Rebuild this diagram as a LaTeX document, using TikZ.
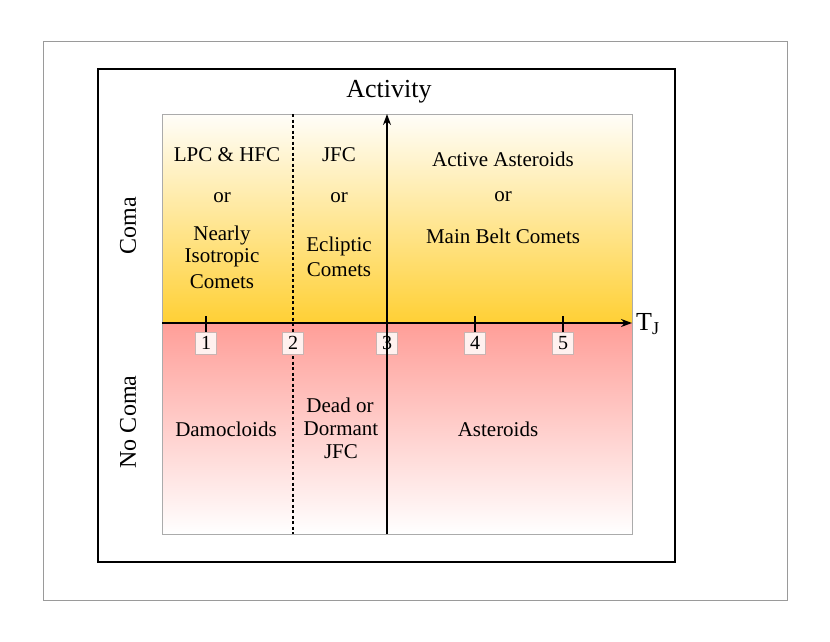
\documentclass[tikz,border=0pt]{standalone}
\usepackage{fontspec}
\setmainfont{Liberation Serif}
\usetikzlibrary{arrows.meta}
\definecolor{gold}{HTML}{FFD035}
\definecolor{salmon}{HTML}{FF9E98}
\definecolor{frameg}{HTML}{9A9A9A}
\definecolor{plotg}{HTML}{ABABAB}
\definecolor{tickfill}{HTML}{FFF1EF}
\definecolor{tickdraw}{HTML}{C9B4B2}
\tikzset{
  lbl/.style={font=\fontsize{21}{24}\selectfont, inner sep=0pt, anchor=center},
  side/.style={font=\fontsize{24}{28}\selectfont, inner sep=0pt, rotate=90},
  ticklbl/.style={font=\fontsize{20}{22}\selectfont, draw=tickdraw, fill=tickfill, minimum width=21pt, minimum height=22pt, inner sep=0pt, line width=0.8pt},
  axisline/.style={line width=1.8pt, -{Stealth[length=11pt,width=8pt]}},
  tickline/.style={line width=1.2pt},
}
\begin{document}
\begin{tikzpicture}[x=1pt,y=-1pt]
\useasboundingbox (0,0) rectangle (830,642);
\fill[white] (0,0) rectangle (830,642);
% frames
\draw[frameg, line width=1pt] (43,42) rectangle (787,600);
\draw[black, line width=2pt] (98,69) rectangle (675,562);
% shaded regions
\shade[top color=white!97!gold, middle color=gold!55!white, bottom color=gold] (162,114) rectangle (632,323);
\shade[top color=salmon, middle color=salmon!78!white, bottom color=white] (162,323) rectangle (632,534);
\draw[plotg, line width=1pt] (162,114) rectangle (632,534);
% coordinates
\coordinate (xs) at (162,323);
\coordinate (xe) at (632,323);
\coordinate (ys) at (387,534);
\coordinate (ye) at (387,114);
\coordinate (ds) at (293,114);
\coordinate (de) at (293,534);
% dashed divider
\draw[line width=1.2pt, dash pattern=on 3pt off 2.5pt] (ds) -- (de);
% tick labels
\node[ticklbl] (t1) at (206,343) {1};
\node[ticklbl] (t2) at (293,343) {2};
\node[ticklbl] (t3) at (387,343) {3};
\node[ticklbl] (t4) at (475,343) {4};
\node[ticklbl] (t5) at (563,343) {5};
\coordinate (k1) at (206,316);
\coordinate (k4) at (475,316);
\coordinate (k5) at (563,316);
\draw[tickline] (k1) -- (t1.north);
\draw[tickline] (k4) -- (t4.north);
\draw[tickline] (k5) -- (t5.north);
% axes
\draw[axisline] (xs) -- (xe);
\draw[axisline] (ys) -- (ye);
% axis labels
\node[font=\fontsize{26}{30}\selectfont, inner sep=0pt] (act) at (389,92) {Activity};
\node[font=\fontsize{26}{30}\selectfont, inner sep=0pt, anchor=west] (tj) at (636,324) {T\textsubscript{J}};
\node[side] (coma) at (128,226) {Coma};
\node[side] (nocoma) at (128,422) {No Coma};
% upper cells
\node[lbl] (a1) at (227,155) {LPC \& HFC};
\node[lbl] (a2) at (222,198) {or};
\node[lbl] (a3) at (222,235) {Nearly};
\node[lbl] (a4) at (222,258) {Isotropic};
\node[lbl] (a5) at (222,282) {Comets};
\node[lbl] (b1) at (339,155) {JFC};
\node[lbl] (b2) at (339,198) {or};
\node[lbl] (b3) at (339,246) {Ecliptic};
\node[lbl] (b4) at (339,270) {Comets};
\node[lbl] (c1) at (503,159) {Active Asteroids};
\node[lbl] (c2) at (503,197) {or};
\node[lbl] (c3) at (503,236) {Main Belt Comets};
% lower cells
\node[lbl] (d1) at (226,429) {Damocloids};
\node[lbl] (e1) at (340,405) {Dead or};
\node[lbl] (e2) at (341,429) {Dormant};
\node[lbl] (e3) at (341,452) {JFC};
\node[lbl] (f1) at (498,429) {Asteroids};
\end{tikzpicture}
\end{document}
